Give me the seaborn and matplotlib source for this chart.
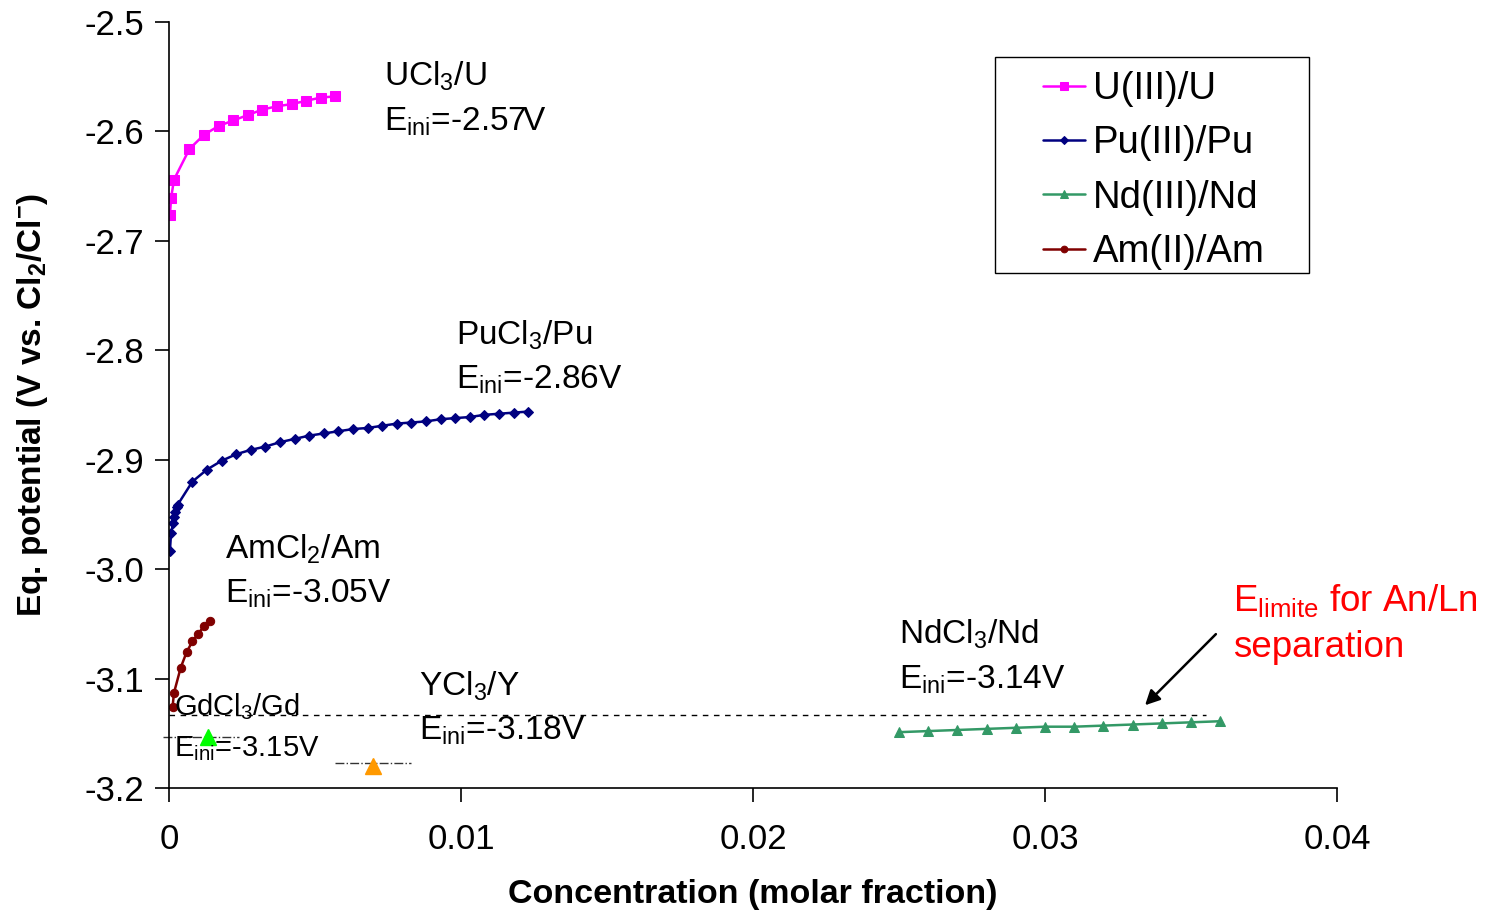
import matplotlib
matplotlib.use('Agg')
import matplotlib.pyplot as plt
from matplotlib.patches import Rectangle
import numpy as np
import pandas as pd
import seaborn as sns

# data
u_x = [0.00003, 0.00007, 0.00017, 0.0007, 0.0012, 0.0017, 0.0022, 0.0027, 0.0032, 0.0037, 0.0042, 0.0047, 0.0052, 0.0057]
u_y = [-2.676, -2.661, -2.644, -2.616, -2.603, -2.595, -2.590, -2.585, -2.580, -2.577, -2.575, -2.572, -2.569, -2.568]

pu_x = [0.00003, 0.00007, 0.00014, 0.00017, 0.0002, 0.00027, 0.0003,
        0.0008, 0.0013, 0.0018, 0.0023, 0.0028, 0.0033, 0.0038, 0.0043, 0.0048, 0.0053, 0.0058,
        0.0063, 0.0068, 0.0073, 0.0078, 0.0083, 0.0088, 0.0093, 0.0098, 0.0103, 0.0108,
        0.0113, 0.0118, 0.0123]
pu_y = [-2.983, -2.967, -2.958, -2.952, -2.948, -2.943, -2.941,
        -2.920, -2.909, -2.901, -2.895, -2.891, -2.888, -2.884, -2.881, -2.878, -2.876, -2.874,
        -2.872, -2.871, -2.869, -2.867, -2.866, -2.865, -2.863, -2.862, -2.861, -2.859,
        -2.858, -2.857, -2.856]

nd_x = [0.025, 0.026, 0.027, 0.028, 0.029, 0.030, 0.031, 0.032, 0.033, 0.034, 0.035, 0.036]
nd_y = [-3.149, -3.148, -3.147, -3.146, -3.145, -3.144, -3.144, -3.143, -3.142, -3.141, -3.140, -3.139]

am_x = [0.00012, 0.00017, 0.0004, 0.0006, 0.0008, 0.001, 0.0012, 0.0014]
am_y = [-3.126, -3.113, -3.090, -3.076, -3.066, -3.059, -3.052, -3.047]

gd_x, gd_y = 0.00134, -3.153
y_x, y_y = 0.007, -3.18
e_limite = -3.133

x_ticks = [0, 0.01, 0.02, 0.03, 0.04]
x_tick_labels = ['0', '0.01', '0.02', '0.03', '0.04']
y_ticks = [-3.2, -3.1, -3.0, -2.9, -2.8, -2.7, -2.6, -2.5]
y_tick_labels = ['-3.2', '-3.1', '-3.0', '-2.9', '-2.8', '-2.7', '-2.6', '-2.5']

sns.set_style('white')
plt.rcParams['font.family'] = ['Liberation Sans', 'DejaVu Sans']
plt.rcParams['text.color'] = 'black'
plt.rcParams['axes.labelcolor'] = 'black'
plt.rcParams['xtick.color'] = 'black'
plt.rcParams['ytick.color'] = 'black'
plt.rcParams['mathtext.fontset'] = 'custom'
plt.rcParams['mathtext.rm'] = 'Liberation Sans'
plt.rcParams['mathtext.it'] = 'Liberation Sans'
plt.rcParams['mathtext.bf'] = 'Liberation Sans:bold'

fig = plt.figure(figsize=(14.88, 9.17), dpi=100)
ax = fig.add_axes([0.1136, 0.1407, 0.7849, 0.8353])

series = [
    ('U(III)/U', u_x, u_y, '#FF00FF', 's', 7.5),
    ('Pu(III)/Pu', pu_x, pu_y, '#000080', 'D', 5),
    ('Nd(III)/Nd', nd_x, nd_y, '#339966', '^', 7),
    ('Am(II)/Am', am_x, am_y, '#800000', 'o', 6),
]
for name, xs, ys, col, mk, ms in series:
    df = pd.DataFrame({'x': xs, 'y': ys})
    sns.lineplot(data=df, x='x', y='y', ax=ax, color=col, marker=mk, markersize=ms,
                 markeredgecolor=col, linewidth=1.8, label=name, sort=False)

# E limite and single points
ax.plot([0, 0.0355], [e_limite, e_limite], color='black', linestyle=(0, (4, 4)), linewidth=1)
ax.plot([-0.0002, 0.0024], [gd_y, gd_y], color='#333333', linestyle='-.', linewidth=1, clip_on=False)
ax.plot([0.0057, 0.0083], [y_y + 0.003, y_y + 0.003], color='#333333', linestyle='-.', linewidth=1)
ax.plot([gd_x], [gd_y], marker='^', color='#00FF00', markersize=11, linestyle='none')
ax.plot([y_x], [y_y], marker='^', color='#FF9900', markersize=11, linestyle='none')

fs = 24
labels = [
    (0.00736, -2.550, 'UCl$_3$/U', fs), (0.00736, -2.591, 'E$_{ini}$=-2.57V', fs),
    (0.00983, -2.786, 'PuCl$_3$/Pu', fs), (0.00983, -2.827, 'E$_{ini}$=-2.86V', fs),
    (0.00192, -2.982, 'AmCl$_2$/Am', fs), (0.00192, -3.023, 'E$_{ini}$=-3.05V', fs),
    (0.025, -3.060, 'NdCl$_3$/Nd', fs), (0.025, -3.101, 'E$_{ini}$=-3.14V', fs),
    (0.00856, -3.107, 'YCl$_3$/Y', fs), (0.00856, -3.148, 'E$_{ini}$=-3.18V', fs),
    (0.00017, -3.126, 'GdCl$_3$/Gd', 21), (0.00017, -3.164, 'E$_{ini}$=-3.15V', 21),
]
for x, y, t, s in labels:
    ax.text(x, y, t, fontsize=s, ha='left', va='center')

ax.text(0.03644, -3.029, 'E$_{limite}$ for An/Ln', fontsize=26.5, color='red', ha='left', va='center', clip_on=False)
ax.text(0.03644, -3.072, 'separation', fontsize=26.5, color='red', ha='left', va='center', clip_on=False)
ax.annotate('', xy=(0.03336, -3.1262), xytext=(0.03592, -3.0576),
            arrowprops=dict(arrowstyle='-|>', color='black', lw=1.8, mutation_scale=22),
            annotation_clip=False)

ax.set_xlim(0, 0.04)
ax.set_ylim(-3.2, -2.5)
ax.set_xticks(x_ticks)
ax.set_xticklabels(x_tick_labels)
ax.set_yticks(y_ticks)
ax.set_yticklabels(y_tick_labels)
ax.tick_params(axis='both', labelsize=25, direction='out', length=10, width=1.2, color='black',
               bottom=True, left=True)
ax.tick_params(axis='x', pad=15)
ax.tick_params(axis='y', pad=8)
for s in ['top', 'right']:
    ax.spines[s].set_visible(False)
for s in ['left', 'bottom']:
    ax.spines[s].set_color('black')
    ax.spines[s].set_linewidth(1.2)

ax.set_xlabel('Concentration (molar fraction)', fontsize=24.5, fontweight='bold', labelpad=17)
ax.set_ylabel(r'Eq. potential (V vs. Cl$_\mathbf{2}$/Cl$^\mathbf{-}$)', fontsize=24, fontweight='bold', labelpad=25)

# legend box drawn separately (wide left margin in the original)
ax.add_patch(Rectangle((0.7072, 0.6723), 0.2688, 0.282, transform=ax.transAxes, fill=True,
                       facecolor='white', edgecolor='black', linewidth=1.0, zorder=4, clip_on=False))
leg = ax.legend(loc='upper left', bbox_to_anchor=(0.748, 0.936), fontsize=27.5, frameon=False,
                handlelength=1.1, handletextpad=0.22, labelspacing=0.48, borderpad=0,
                markerscale=0.8, borderaxespad=0)
leg.set_zorder(5)

fig.savefig('out.png', dpi=100)
